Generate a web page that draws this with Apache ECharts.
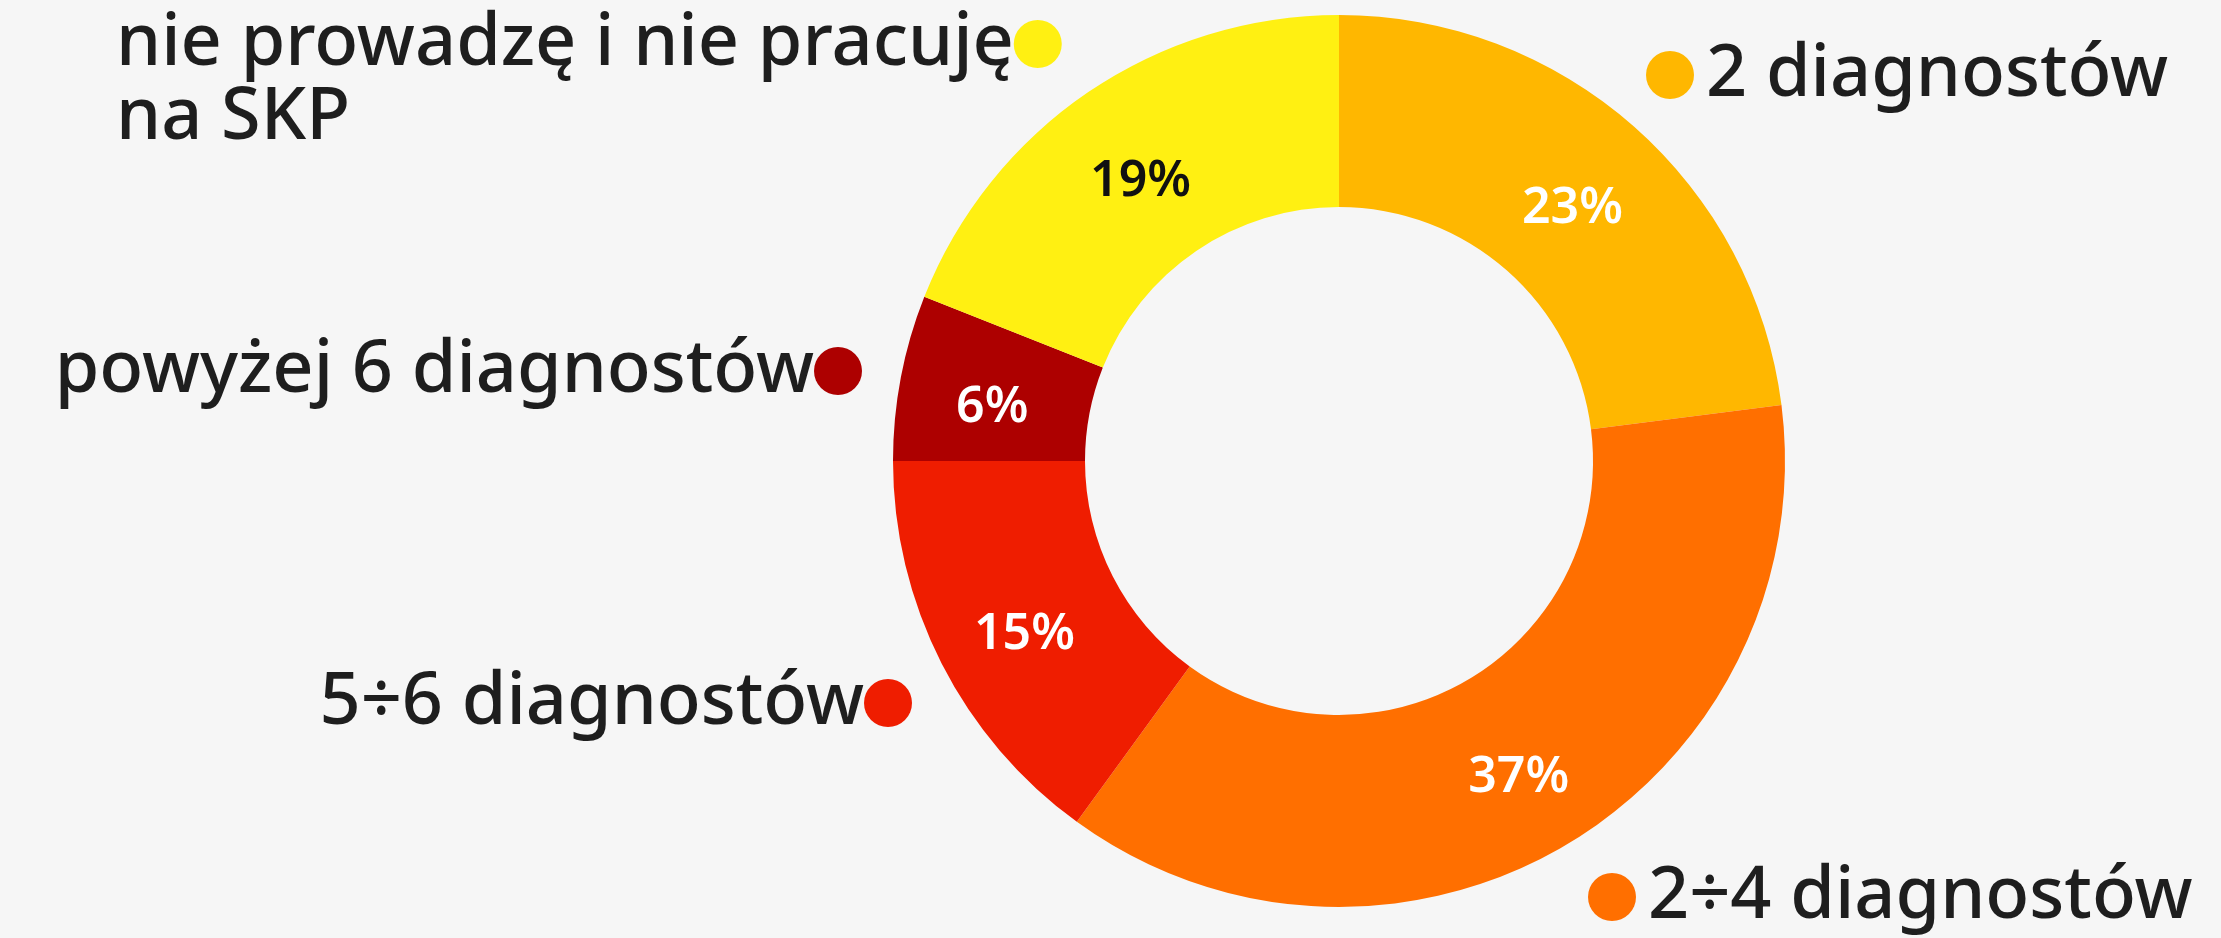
<!DOCTYPE html>
<html>
<head>
<meta charset="utf-8">
<script src="https://cdn.jsdelivr.net/npm/echarts@6/dist/echarts.min.js"></script>
<style>
  html, body { margin: 0; padding: 0; background: #f6f6f6; }
  #chart { width: 2221px; height: 938px; }
</style>
</head>
<body>
<div id="chart"></div>
<script>
// dane
const categories = ['2 diagnostów', '2÷4 diagnostów', '5÷6 diagnostów', 'powyżej 6 diagnostów', 'nie prowadzę i nie pracuję na SKP'];
const shares = [23, 37, 15, 6, 19];
const labelTexts = ['2 diagnostów', '2÷4 diagnostów', '5÷6 diagnostów', 'powyżej 6 diagnostów', 'nie prowadzę i nie pracuję\nna SKP'];

const colors = ['#ffb700', '#ff6f00', '#ef1d00', '#ad0000', '#fff012'];
const FONT = '"Noto Sans", sans-serif';

// where the outer labels sit (dot side + anchor)
const labelPos = [
  { x: 1646, y: 75, align: 'left' },
  { x: 1588, y: 897, align: 'left' },
  { x: 912, y: 703, align: 'right' },
  { x: 862, y: 371, align: 'right' },
  { x: 116, y: 81, align: 'left' }
];

var chart = echarts.init(document.getElementById('chart'), null, { renderer: 'canvas' });

var rich = {
  t: { fontFamily: FONT, fontSize: 72, fontWeight: 500, color: '#1e1e1e', lineHeight: 74, verticalAlign: 'middle' },
  tl: { fontFamily: FONT, fontSize: 72, fontWeight: 500, color: '#1e1e1e', lineHeight: 74, verticalAlign: 'middle', padding: [0, 0, 0, 12] }
};
colors.forEach(function (c, i) {
  rich['d' + i] = { width: 48, height: 48, borderRadius: 24, backgroundColor: c, verticalAlign: 'middle' };
});

function outerLabel(p) {
  var i = p.dataIndex;
  var txt = labelTexts[i];
  if (i === 4) {
    var lines = txt.split('\n');
    return '{t|' + lines[0] + '}{d4|}\n{t|' + lines[1] + '}';
  }
  if (labelPos[i].align === 'left') return '{d' + i + '|}{tl|' + txt + '}';
  return '{t|' + txt + '}{d' + i + '|}';
}

var option = {
  backgroundColor: '#f6f6f6',
  animation: false,
  series: [
    {
      type: 'pie',
      center: [1339, 461],
      radius: [254, 446],
      startAngle: 90,
      clockwise: true,
      data: categories.map(function (n, i) {
        return {
          name: n,
          value: shares[i],
          itemStyle: { color: colors[i] },
          label: { color: i === 4 ? '#111111' : '#ffffff' }
        };
      }),
      label: {
        show: true,
        position: 'inside',
        formatter: '{c}%',
        fontFamily: FONT,
        fontSize: 50,
        fontWeight: 600,
        offset: [0, 13]
      },
      labelLine: { show: false },
      emphasis: { disabled: true }
    },
    {
      type: 'pie',
      silent: true,
      center: [1339, 461],
      radius: [254, 446],
      startAngle: 90,
      data: categories.map(function (n, i) {
        return { name: n, value: shares[i], itemStyle: { color: 'transparent' } };
      }),
      label: {
        show: true,
        position: 'outside',
        formatter: outerLabel,
        rich: rich
      },
      labelLine: { show: false },
      labelLayout: function (p) {
        var pos = labelPos[p.dataIndex];
        return { x: pos.x, y: pos.y, align: pos.align, verticalAlign: 'middle' };
      }
    }
  ]
};

chart.setOption(option);
</script>
</body>
</html>
